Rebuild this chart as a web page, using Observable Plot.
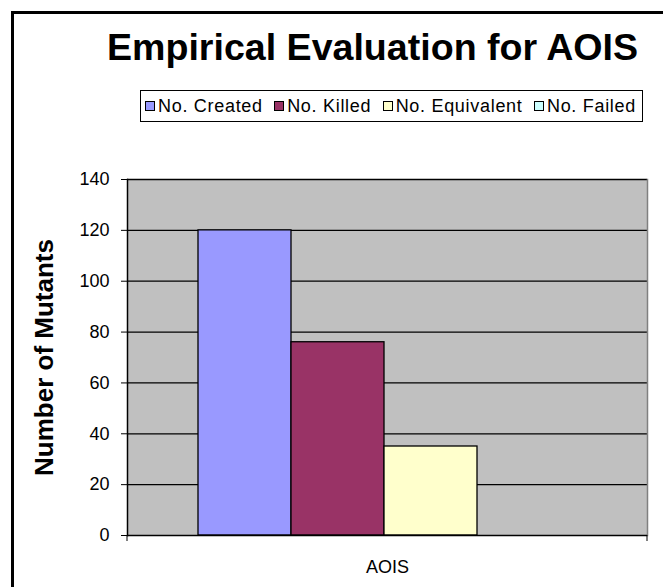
<!DOCTYPE html>
<html>
<head>
<meta charset="utf-8">
<script src="https://cdn.jsdelivr.net/npm/d3@7"></script>
<script src="https://cdn.jsdelivr.net/npm/@observablehq/plot@0.6"></script>
<style>
  html, body { margin: 0; padding: 0; background: #fff; }
  #chart { position: relative; width: 663px; height: 587px; overflow: hidden; font-family: "Liberation Sans", Arial, sans-serif; }
  #border { position: absolute; left: 11px; top: 11px; right: -10px; bottom: -10px; border-left: 3px solid #000; border-top: 3px solid #000; }
  #title { position: absolute; left: 0; top: 25px; width: 745px; text-align: center; font-weight: bold; font-size: 37.6px; line-height: 44px; color: #000; }
  #legend { position: absolute; left: 140px; top: 90px; width: 491px; height: 30px; border: 1px solid #000; background: #fff;
            padding: 0 6px 0 4px; display: flex; align-items: center; justify-content: space-between; font-size: 18px; letter-spacing: 0.7px; color: #000; }
  .item { display: flex; align-items: center; gap: 3px; white-space: nowrap; }
  .sw { width: 8px; height: 8px; border: 1px solid #000; }
  #plot { position: absolute; left: 0; top: 150px; }
</style>
</head>
<body>
<div id="chart">
  <div id="border"></div>
  <div id="title"></div>
  <div id="legend"></div>
  <div id="plot"></div>
</div>
<script>
const titleText = "Empirical Evaluation for AOIS";
const categories = ["AOIS"];
const series = ["No. Created", "No. Killed", "No. Equivalent", "No. Failed"];
const values = [120, 76, 35, 0];
const colors = ["#9999FF", "#993366", "#FFFFCC", "#CCFFFF"];
const yTicks = [0, 20, 40, 60, 80, 100, 120, 140];
const yLabel = "Number of Mutants";

const data = series.map((s, i) => ({category: categories[0], series: s, value: values[i]}));

document.getElementById("title").textContent = titleText;
const legend = d3.select("#legend");
series.forEach((s, i) => {
  const it = legend.append("div").attr("class", "item");
  it.append("div").attr("class", "sw").style("background", colors[i]);
  it.append("span").text(s);
});

// category-axis tick marks at the plot-area edges
const categoryEdgeTicks = (index, scales, values, dim) => {
  const g = d3.create("svg:g");
  const y0 = dim.height - dim.marginBottom;
  [dim.marginLeft, dim.width - dim.marginRight].forEach(x => {
    g.append("line").attr("x1", x).attr("x2", x).attr("y1", y0).attr("y2", y0 + 6)
      .attr("stroke", "#000").attr("stroke-width", 1);
  });
  return g.node();
};

const chart = Plot.plot({
  width: 663,
  height: 437,
  marginTop: 29,
  marginLeft: 127,
  marginRight: 16,
  marginBottom: 52,
  style: {fontFamily: "'Liberation Sans', Arial, sans-serif", fontSize: "18px", color: "#000", background: "transparent"},
  x: {type: "band", domain: series, paddingInner: 0, paddingOuter: 0.775, align: 0.48, axis: null},
  y: {domain: [0, 140]},
  color: {domain: series, range: colors},
  marks: [
    Plot.frame({fill: "#C0C0C0", stroke: null}),
    Plot.ruleY(yTicks.filter(d => d > 0), {stroke: "#000", strokeWidth: 1.3}),
    Plot.frame({anchor: "right", stroke: "#808080", strokeWidth: 1.5}),
    Plot.barY(data, {x: "series", y: "value", fill: "series", stroke: "#000", strokeWidth: 1.3}),
    Plot.frame({anchor: "left", stroke: "#000", strokeWidth: 1.5}),
    Plot.ruleY([0], {stroke: "#000", strokeWidth: 1.5}),
    Plot.axisY({ticks: yTicks, tickSize: 6, tickPadding: 12, tickFormat: d => d, label: null, fontSize: 18, stroke: "#000"}),
    categoryEdgeTicks,
    Plot.text(categories, {frameAnchor: "bottom", lineAnchor: "middle", dy: 32, text: d => d, fontSize: 18, fill: "#000"}),
    Plot.text([yLabel], {frameAnchor: "left", textAnchor: "middle", lineAnchor: "middle", rotate: -90, dx: -83, text: d => d, fontSize: 26, fontWeight: "bold", fill: "#000"})
  ]
});
document.getElementById("plot").appendChild(chart);
</script>
</body>
</html>
